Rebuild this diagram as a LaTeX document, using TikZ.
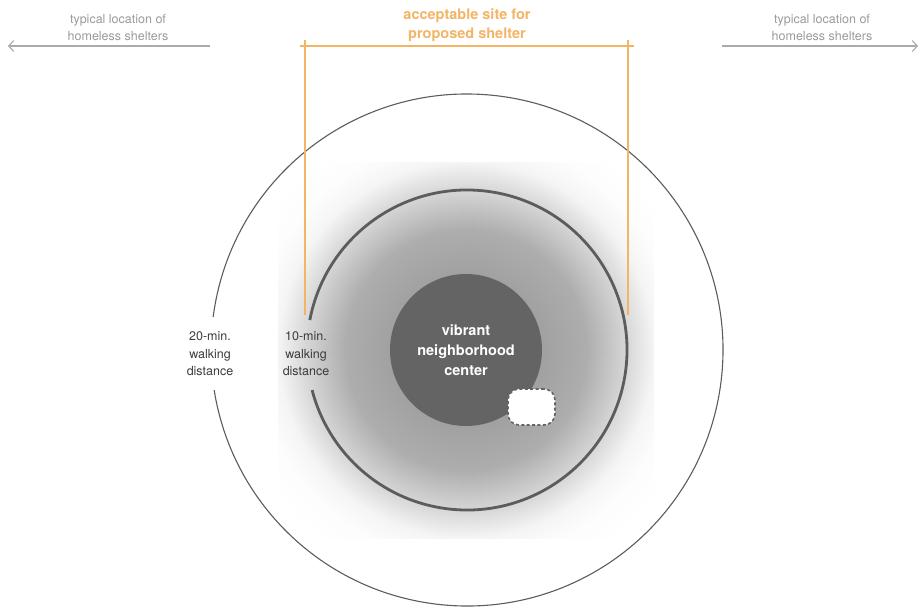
\documentclass[tikz,border=0pt]{standalone}
\usepackage{fontspec}
\setmainfont{TeX Gyre Heros}
\usepackage{xcolor}
\usetikzlibrary{arrows.meta,positioning}
\definecolor{ringgray}{HTML}{5C5C5C}
\definecolor{hubgray}{HTML}{646464}
\definecolor{sitecolor}{HTML}{F2B465}
\definecolor{notegray}{HTML}{9A9A9A}
\definecolor{linegray}{HTML}{ABABAB}
\definecolor{labelgray}{HTML}{3A3A3A}
\pgfdeclareradialshading{glow}{\pgfpoint{0bp}{0bp}}{color(0bp)=(black!38); color(10bp)=(black!37); color(16bp)=(black!32); color(21bp)=(black!17); color(25bp)=(black!4); color(28bp)=(black!1); color(32bp)=(white); color(50bp)=(white)}

\begin{document}
\begin{tikzpicture}[x=1pt,y=-1pt,
    note/.style={text=notegray, align=center, font=\fontsize{12.5}{17}\selectfont},
    walk/.style={text=labelgray, align=center, font=\fontsize{12.5}{17.5}\selectfont},
    sitetext/.style={text=sitecolor, align=center, font=\bfseries\fontsize{14.5}{19}\selectfont},
    hub/.style={circle, fill=hubgray, minimum size=152pt, inner sep=0pt, text=white, align=center, font=\bfseries\fontsize{14.5}{20}\selectfont},
    siteblob/.style={draw=hubgray, fill=white, line width=1.6pt, dash pattern=on 3pt off 2.4pt, rounded corners=11pt, minimum width=47pt, minimum height=36pt, inner sep=0pt},
    pointer/.style={draw=linegray, line width=1.1pt, -{Straight Barb[length=5pt,width=11pt]}},
    bracket/.style={draw=sitecolor, line width=1.4pt}]
    \useasboundingbox (0,0) rectangle (920,608);
    % soft glow round the centre
    \shade[shading=glow] (278,162) rectangle (654,538);
    \coordinate (ctr) at (467,350);
    % walking rings, open at the labels
    \draw[ringgray, line width=1.1pt] (ctr) ++(187.4:256) arc[start angle=187.4, end angle=531, radius=256];
    \draw[ringgray, line width=2.8pt] (ctr) ++(190.8:160) arc[start angle=190.8, end angle=525.5, radius=160];
    \node[hub] (hub) at (466,350) {vibrant\\neighborhood\\center};
    \node[siteblob] (site) at (531.5,407) {};
    \node[walk] (outerlbl) at (210,354) {20-min.\\walking\\distance};
    \node[walk] (innerlbl) at (306,354) {10-min.\\walking\\distance};
    % bracket for the shelter site
    \coordinate (siteL) at (305,315);
    \coordinate (siteR) at (628,315);
    \coordinate (barL) at (300,46);
    \coordinate (barR) at (634,46);
    \draw[bracket] (barL) -- (barR);
    \draw[bracket] (siteL) -- (siteL |- 0,40);
    \draw[bracket] (siteR) -- (siteR |- 0,40);
    \node[sitetext] (sitelbl) at (467,25) {acceptable site for\\proposed shelter};
    % where shelters usually end up
    \coordinate (lfrom) at (210,46);
    \coordinate (lto) at (8,46);
    \coordinate (rfrom) at (722,46);
    \coordinate (rto) at (918,46);
    \draw[pointer] (lfrom) -- (lto);
    \draw[pointer] (rfrom) -- (rto);
    \node[note] (leftnote) at (118,28) {typical location of\\homeless shelters};
    \node[note] (rightnote) at (822,28) {typical location of\\homeless shelters};
\end{tikzpicture}
\end{document}
